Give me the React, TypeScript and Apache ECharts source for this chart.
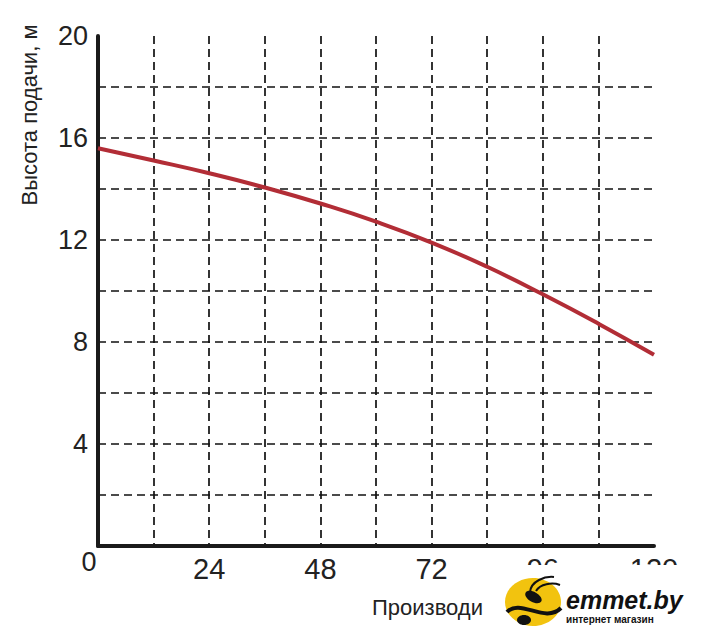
import React, { useEffect, useRef } from "react";
import * as echarts from "echarts";

const flowValues = [0, 12, 24, 36, 48, 60, 72, 84, 96, 108, 120];
const headValues = [15.6, 15.12, 14.62, 14.06, 13.43, 12.72, 11.9, 10.95, 9.87, 8.72, 7.5];
const xLabelStep = 24;
const yLabelStep = 4;
const yAxisTitle = "Высота подачи, м";
const xAxisTitle = "Производи";
const logoText = "emmet.by";
const logoSub = "интернет магазин";

const FONT = "'Liberation Sans', Arial, sans-serif";

export default function App() {
  const ref = useRef<HTMLDivElement>(null);
  useEffect(() => {
    if (!ref.current) return;
    const chart = echarts.init(ref.current, null, { renderer: "svg" });
    const data = flowValues.map((x, i) => [x, headValues[i]]);
    const dash = { color: "#111", width: 1.7, type: [8, 5] as any };
    chart.setOption({
      animation: false,
      backgroundColor: "#fff",
      grid: { left: 98, right: 54, top: 36, bottom: 94 },
      xAxis: {
        type: "value",
        min: 0,
        max: 120,
        interval: 12,
        axisLine: { show: true, onZero: false, lineStyle: { color: "#1a1a1a", width: 4 } },
        axisTick: { show: false },
        axisLabel: {
          margin: 8,
          fontSize: 29,
          color: "#222",
          fontFamily: FONT,
          showMinLabel: true,
          showMaxLabel: true,
          formatter: (v: number) => (v !== 0 && v % xLabelStep === 0 ? String(v) : ""),
        },
        splitLine: { show: true, showMinLine: false, showMaxLine: false, lineStyle: dash },
      },
      yAxis: {
        type: "value",
        min: 0,
        max: 20,
        interval: 2,
        axisLine: { show: true, onZero: false, lineStyle: { color: "#1a1a1a", width: 4 } },
        axisTick: { show: false },
        axisLabel: {
          margin: 10,
          fontSize: 27,
          color: "#222",
          fontFamily: FONT,
          padding: [0, 0, 5, 0],
          formatter: (v: number) => (v !== 0 && v % yLabelStep === 0 ? String(v) : ""),
        },
        splitLine: { show: true, showMinLine: false, showMaxLine: false, lineStyle: dash },
      },
      series: [
        {
          type: "line",
          data,
          smooth: 0.5,
          symbol: "none",
          lineStyle: { color: "#b22d36", width: 4 },
          z: 5,
        },
      ],
      graphic: [
        {
          type: "text",
          x: 89,
          y: 562,
          style: { text: "0", font: `27px ${FONT}`, fill: "#222", textAlign: "center", textVerticalAlign: "middle" },
        },
        {
          type: "text",
          x: 29,
          y: 115,
          rotation: Math.PI / 2,
          style: { text: yAxisTitle, font: `22px ${FONT}`, fill: "#222", textAlign: "center", textVerticalAlign: "middle" },
        },
        {
          type: "text",
          x: 372,
          y: 607,
          style: { text: xAxisTitle, font: `22px ${FONT}`, fill: "#222", textAlign: "left", textVerticalAlign: "middle" },
        },
        {
          type: "rect",
          shape: { x: 483, y: 565, width: 225, height: 75 },
          style: { fill: "#fff" },
          z: 100,
        },
        {
          type: "ellipse",
          shape: { cx: 533, cy: 602, rx: 28, ry: 24 },
          style: { fill: "#f2c30f" },
          z: 101,
        },
        {
          type: "bezierCurve",
          shape: { x1: 507, y1: 612, x2: 561, y2: 608, cpx1: 520, cpy1: 598, cpx2: 545, cpy2: 624 },
          style: { stroke: "#111", lineWidth: 4, fill: "none" },
          z: 102,
        },
        {
          type: "ellipse",
          shape: { cx: 533, cy: 597, rx: 9, ry: 5 },
          rotation: -0.5,
          originX: 533,
          originY: 597,
          style: { fill: "#111" },
          z: 102,
        },
        {
          type: "bezierCurve",
          shape: { x1: 530, y1: 592, x2: 554, y2: 577, cpx1: 531, cpy1: 581, cpx2: 545, cpy2: 576 },
          style: { stroke: "#111", lineWidth: 2, fill: "none" },
          z: 102,
        },
        {
          type: "bezierCurve",
          shape: { x1: 536, y1: 591, x2: 560, y2: 585, cpx1: 540, cpy1: 584, cpx2: 552, cpy2: 582 },
          style: { stroke: "#111", lineWidth: 2, fill: "none" },
          z: 102,
        },
        {
          type: "ellipse",
          shape: { cx: 524, cy: 620, rx: 7, ry: 5 },
          style: { fill: "#111" },
          z: 102,
        },
        {
          type: "text",
          x: 566,
          y: 612,
          style: {
            text: logoText,
            fontFamily: FONT,
            fontStyle: "italic",
            fontWeight: "bold",
            fontSize: 25,
            fill: "#111",
            textAlign: "left",
            textVerticalAlign: "bottom",
          },
          z: 102,
        },
        {
          type: "text",
          x: 566,
          y: 619,
          style: {
            text: logoSub,
            fontFamily: FONT,
            fontWeight: "bold",
            fontSize: 10,
            fill: "#111",
            textAlign: "left",
            textVerticalAlign: "middle",
          },
          z: 102,
        },
      ],
    });
    return () => chart.dispose();
  }, []);
  return <div ref={ref} style={{ width: 708, height: 640, margin: -8 }} />;
}
